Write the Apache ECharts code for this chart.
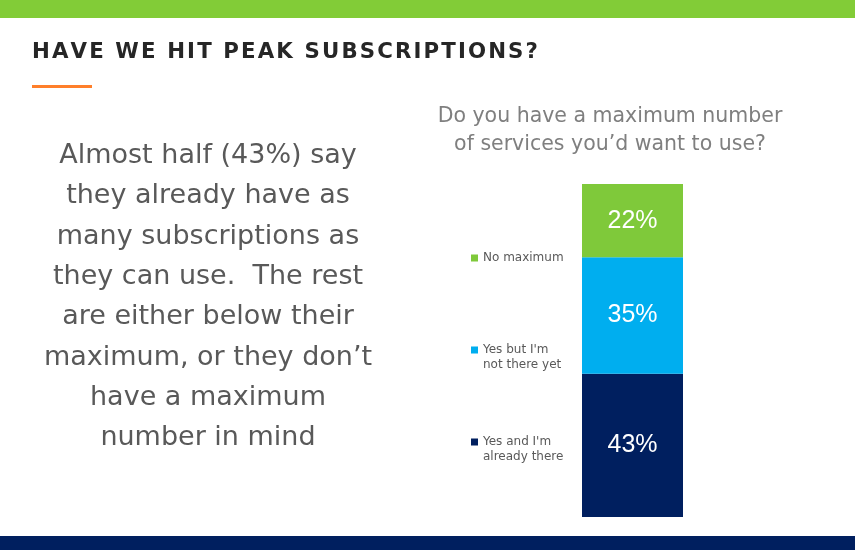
<!DOCTYPE html>
<html>
<head>
<meta charset="utf-8">
<script src="https://cdn.jsdelivr.net/npm/echarts@6/dist/echarts.min.js"></script>
<style>
  html, body { margin: 0; padding: 0; background: #ffffff; }
  #chart { width: 855px; height: 550px; }
</style>
</head>
<body>
<div id="chart"></div>
<script>
    'use strict';

    // answer categories, bottom to top of the stack
    var categories = ['Yes and I\'m\nalready there', 'Yes but I\'m\nnot there yet', 'No maximum'];
    var shares = [43, 35, 22];
    var colors = ['#001F5F', '#00AEEF', '#7FC93A'];

    var question = 'Do you have a maximum number\nof services you\u2019d want to use?';
    var headline = 'HAVE WE HIT PEAK SUBSCRIPTIONS?';
    var summaryLines = [
        'Almost half (43%) say',
        'they already have as',
        'many subscriptions as',
        'they can use.  The rest',
        'are either below their',
        'maximum, or they don\u2019t',
        'have a maximum',
        'number in mind'
    ];

    // fake letter spacing with hair spaces
    var spacedHeadline = headline.split('').join('\u200A');

    // square on top of an empty strip, so the marker lines up with the first text line
    var topSquare = 'path://M0,0h7v7h-7zM0,22h7v0h-7z';

    var chart = echarts.init(document.getElementById('chart'));

    var series = categories.map(function (name, i) {
        return {
            name: name,
            type: 'bar',
            stack: 'total',
            barWidth: '100%',
            data: [shares[i]],
            itemStyle: { color: colors[i] },
            label: {
                show: true,
                position: 'inside',
                formatter: '{c}%',
                color: '#ffffff',
                fontSize: 25,
                fontFamily: 'Liberation Sans'
            }
        };
    });

    // one legend per item so each sits next to its segment
    var legendTops = [429.5, 337.5, 245.5];
    var legends = categories.map(function (name, i) {
        var twoLines = name.indexOf('\n') >= 0;
        return {
            data: [name],
            left: 466,
            top: legendTops[i],
            icon: twoLines ? topSquare : 'rect',
            itemWidth: 7,
            itemHeight: twoLines ? 22 : 7,
            itemGap: 4,
            selectedMode: false,
            textStyle: {
                color: '#595959',
                fontSize: 12,
                fontFamily: 'DejaVu Sans',
                lineHeight: 15
            }
        };
    });

    var graphics = [
        { type: 'rect', shape: { x: 0, y: 0, width: 855, height: 18 }, style: { fill: '#82CC37' } },
        { type: 'rect', shape: { x: 0, y: 536, width: 855, height: 14 }, style: { fill: '#001F5F' } },
        { type: 'rect', shape: { x: 32, y: 85, width: 60, height: 3 }, style: { fill: '#FF7F2A' } },
        {
            type: 'text', left: 32, top: 42,
            style: { text: spacedHeadline, fill: '#262626', font: 'bold 21.3px "DejaVu Sans"' }
        },
        {
            type: 'text', x: 610, y: 131,
            style: {
                text: question, fill: '#7F7F7F', font: '20.5px "DejaVu Sans"',
                lineHeight: 28, align: 'center', verticalAlign: 'middle'
            }
        }
    ];
    summaryLines.forEach(function (line, i) {
        graphics.push({
            type: 'text', x: 208, y: 156 + i * 40.3,
            style: {
                text: line, fill: '#595959', font: '27px "DejaVu Sans"',
                align: 'center', verticalAlign: 'middle'
            }
        });
    });

    chart.setOption({
        animation: false,
        legend: legends,
        grid: { left: 582, width: 101, top: 184, bottom: 33 },
        xAxis: { type: 'category', data: ['share'], show: false },
        yAxis: { type: 'value', min: 0, max: 100, show: false },
        series: series,
        graphic: graphics
    });
</script>
</body>
</html>
